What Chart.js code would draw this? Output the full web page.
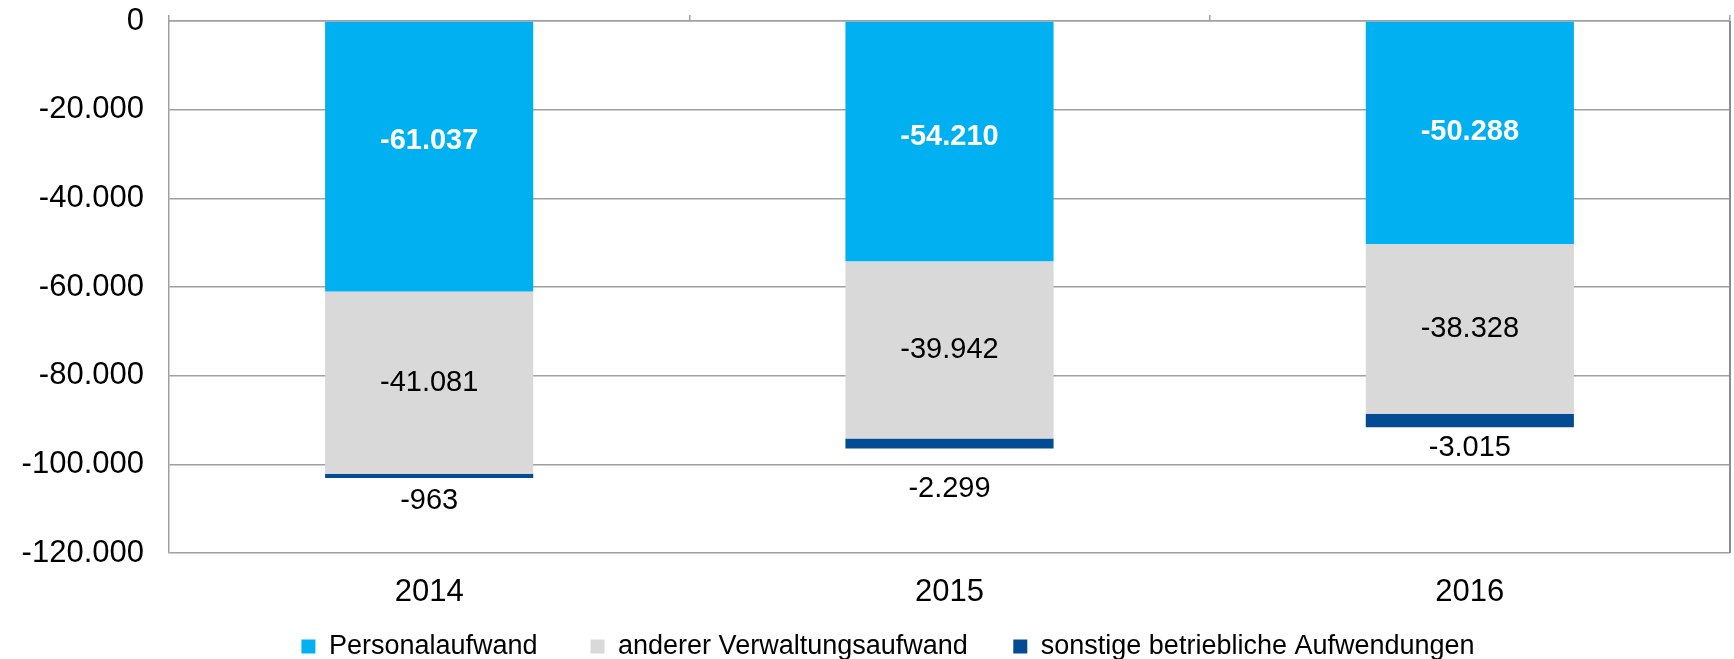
<!DOCTYPE html>
<html>
<head>
<meta charset="utf-8">
<script src="https://cdn.jsdelivr.net/npm/chart.js@4.4.1/dist/chart.umd.min.js"></script>
<style>
  html, body { margin: 0; padding: 0; background: #fff; }
  #wrap { width: 1734px; height: 659px; }
</style>
</head>
<body>
<div id="wrap"><canvas id="chart" width="1734" height="659"></canvas></div>
<script>
const years = ['2014', '2015', '2016'];
const personalaufwand = [-61037, -54210, -50288];
const verwaltungsaufwand = [-41081, -39942, -38328];
const sonstigeAufwendungen = [-963, -2299, -3015];
const yTicks = [0, -20000, -40000, -60000, -80000, -100000, -120000];

const GRID = '#a0a0a0';
const FONT = "'Liberation Sans', Arial, sans-serif";

// 1.234 style thousands separator
const fmt = v => (v < 0 ? '-' : '') + Math.abs(v).toString().replace(/\B(?=(\d{3})+(?!\d))/g, '.');

// label nudges (px) relative to the default placement
const blueShift = [-16, -5, -1];
const darkOffset = [23, 40, 21];
const legendGap = ['    ', '   ', ''];

const barLabels = {
  id: 'barLabels',
  afterDatasetsDraw(chart) {
    const ctx = chart.ctx;
    ctx.save();
    ctx.textAlign = 'center';
    ctx.textBaseline = 'middle';
    chart.data.datasets.forEach((ds, di) => {
      const meta = chart.getDatasetMeta(di);
      meta.data.forEach((bar, i) => {
        const top = Math.min(bar.y, bar.base), bottom = Math.max(bar.y, bar.base);
        let y;
        if (di === 0) {
          ctx.font = 'bold 29px ' + FONT;
          ctx.fillStyle = '#ffffff';
          y = (top + bottom) / 2 + blueShift[i];
        } else if (di === 1) {
          ctx.font = '29px ' + FONT;
          ctx.fillStyle = '#000000';
          y = (top + bottom) / 2;
        } else {
          ctx.font = '29px ' + FONT;
          ctx.fillStyle = '#000000';
          y = bottom + darkOffset[i];
        }
        ctx.fillText(fmt(ds.data[i]), bar.x, y);
      });
    });
    ctx.restore();
  }
};

const rightBorder = {
  id: 'rightBorder',
  afterDraw(chart) {
    const { ctx, chartArea: a } = chart;
    ctx.save();
    ctx.strokeStyle = '#8c8c8c';
    ctx.lineWidth = 2;
    ctx.beginPath();
    ctx.moveTo(a.right, a.top);
    ctx.lineTo(a.right, a.bottom);
    ctx.stroke();
    ctx.restore();
  }
};

// legend in the original sits a bit right of the page centre
const legendShift = {
  id: 'legendShift',
  afterLayout(chart) {
    if (chart.legend) chart.legend.left += 46;
  }
};

new Chart(document.getElementById('chart'), {
  type: 'bar',
  data: {
    labels: years,
    datasets: [
      { label: 'Personalaufwand', data: personalaufwand, backgroundColor: '#00b0f0' },
      { label: 'anderer Verwaltungsaufwand', data: verwaltungsaufwand, backgroundColor: '#d9d9d9' },
      { label: 'sonstige betriebliche Aufwendungen', data: sonstigeAufwendungen, backgroundColor: '#034c94' },
    ]
  },
  options: {
    responsive: false,
    animation: false,
    layout: { padding: { left: 0, right: 4, top: 0, bottom: -11 } },
    datasets: { bar: { barPercentage: 0.4, categoryPercentage: 1 } },
    plugins: {
      tooltip: { enabled: false },
      legend: {
        position: 'bottom',
        labels: {
          boxWidth: 14, boxHeight: 14, padding: 23,
          color: '#000', font: { family: FONT, size: 27 },
          generateLabels: chart => {
            const items = Chart.defaults.plugins.legend.labels.generateLabels(chart);
            items.forEach((it, i) => { it.text += legendGap[i]; });
            return items;
          }
        }
      }
    },
    scales: {
      x: {
        stacked: true,
        grid: { display: false, drawTicks: false },
        border: { display: false },
        ticks: { color: '#000', font: { family: FONT, size: 31 }, padding: 21 },
        afterFit: s => { s.height = 57; }
      },
      xTop: {
        type: 'category',
        labels: years,
        position: 'top',
        offset: true,
        grid: { display: true, offset: true, drawOnChartArea: false, drawTicks: true, tickLength: 6, color: GRID, lineWidth: 1.5 },
        border: { display: true, color: GRID, width: 1.5 },
        ticks: { display: false },
        afterFit: s => { s.height = 21; }
      },
      y: {
        stacked: true,
        min: -120000,
        max: 0,
        afterBuildTicks: s => { s.ticks = yTicks.map(v => ({ value: v })); },
        grid: { color: GRID, lineWidth: 1.5, drawTicks: false },
        border: { display: true, color: GRID, width: 1.5 },
        ticks: { color: '#000', font: { family: FONT, size: 31 }, padding: 25, callback: v => fmt(v) },
        afterFit: s => { s.width = 169; s.paddingTop = 0; s.paddingBottom = 0; }
      }
    }
  },
  plugins: [barLabels, rightBorder, legendShift]
});
</script>
</body>
</html>
